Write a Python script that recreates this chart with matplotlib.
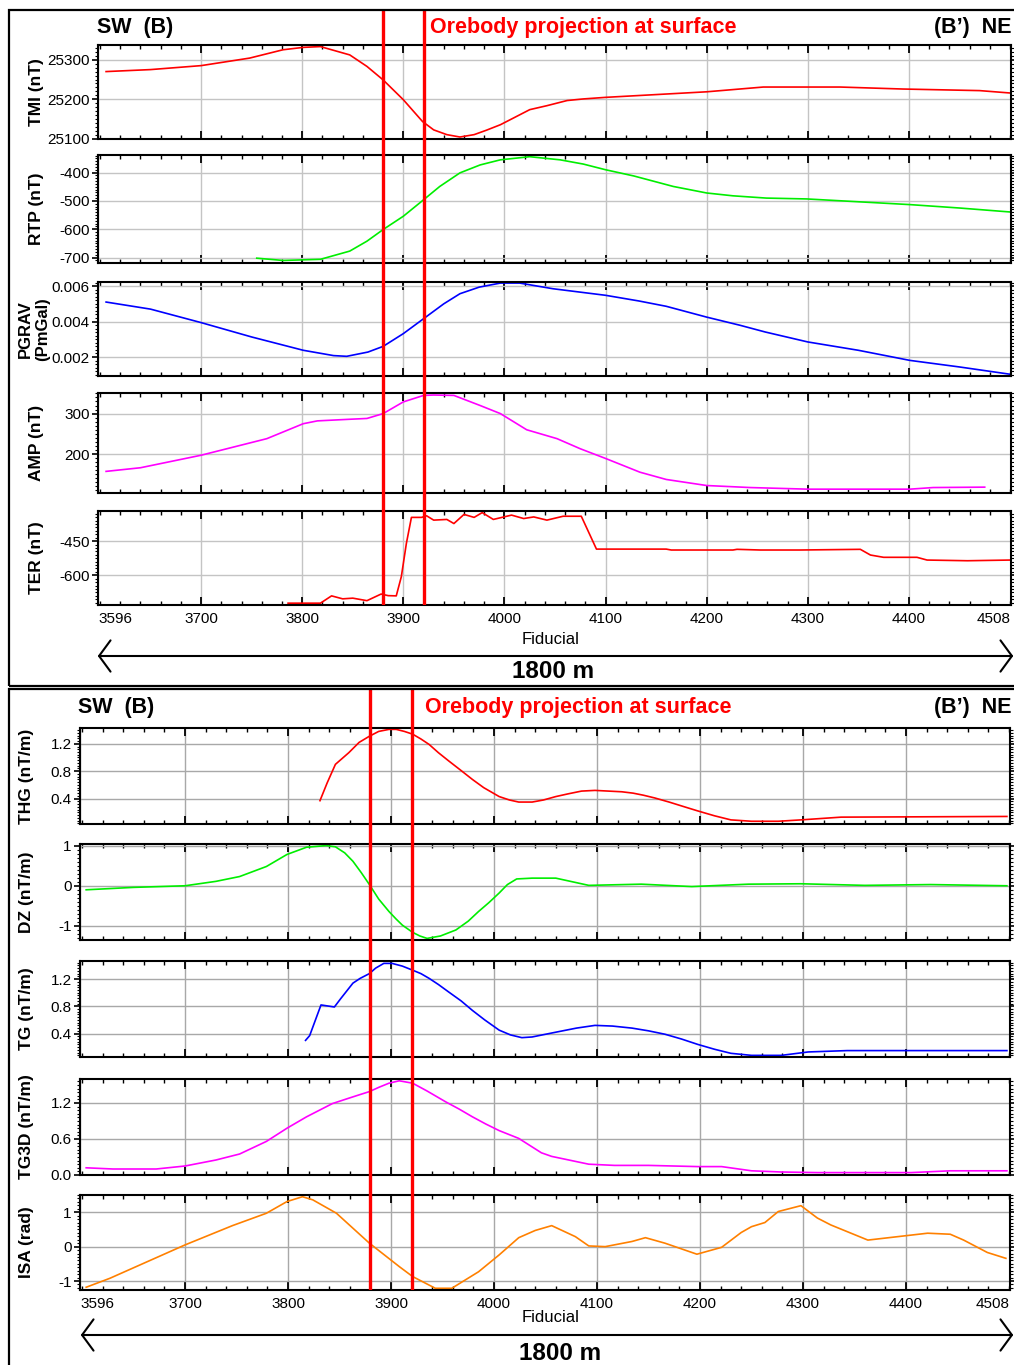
import numpy as np
import matplotlib.pyplot as plt
from matplotlib.ticker import MultipleLocator, AutoMinorLocator, FixedLocator
from matplotlib.patches import Rectangle, FancyArrowPatch

plt.rcParams['font.family'] = ['Liberation Sans', 'DejaVu Sans']
plt.rcParams['axes.unicode_minus'] = False

W, H = 1014, 1365

# ---- data (Fiducial vs. value) ----
fid_range = (3598, 4501)
fid_ticks = [3598, 3700, 3800, 3900, 4000, 4100, 4200, 4300, 4400, 4501]
fid_labels = ['3596', '3700', '3800', '3900', '4000', '4100', '4200', '4300', '4400', '4508']
orebody_edges = [3880, 3920]

tmi_x = [3606, 3650, 3700, 3748, 3781, 3801, 3818, 3847, 3864, 3880, 3890, 3900, 3910, 3919,
         3930, 3943, 3956, 3970, 3982, 3996, 4009, 4025, 4042, 4062, 4078, 4100, 4150, 4200,
         4256, 4332, 4394, 4470, 4500]
tmi_y = [25270, 25275, 25285, 25304, 25325, 25331, 25333, 25312, 25283, 25249, 25224, 25199,
         25170, 25144, 25123, 25111, 25105, 25111, 25122, 25136, 25153, 25174, 25184, 25197,
         25201, 25205, 25212, 25219, 25231, 25231, 25226, 25222, 25216]

rtp_x = [3755, 3781, 3818, 3847, 3864, 3880, 3900, 3920, 3936, 3956, 3976, 3996, 4025, 4055,
         4078, 4100, 4128, 4167, 4200, 4226, 4259, 4299, 4350, 4401, 4450, 4500]
rtp_y = [-702, -710, -706, -677, -642, -601, -554, -496, -449, -401, -373, -355, -344, -355,
         -370, -390, -412, -449, -472, -482, -490, -493, -503, -513, -525, -539]

pgrav_x = [3606, 3650, 3700, 3750, 3801, 3831, 3844, 3865, 3880, 3900, 3920, 3940, 3956, 3975,
           3996, 4015, 4048, 4100, 4133, 4160, 4200, 4233, 4258, 4300, 4350, 4401, 4450, 4500]
pgrav_y = [0.0051, 0.0047, 0.00394, 0.00313, 0.00238, 0.00208, 0.00204, 0.00228, 0.0026,
           0.00332, 0.00416, 0.0050, 0.00557, 0.00594, 0.00617, 0.00617, 0.00585, 0.00548,
           0.00516, 0.00486, 0.00425, 0.00379, 0.00341, 0.00285, 0.00238, 0.00181, 0.00144,
           0.00103]

amp_x = [3606, 3640, 3700, 3765, 3801, 3815, 3847, 3864, 3880, 3900, 3920, 3930, 3950, 3976,
         3996, 4022, 4052, 4075, 4100, 4134, 4160, 4200, 4243, 4300, 4401, 4424, 4475]
amp_y = [157, 166, 197, 238, 275, 282, 286, 288, 300, 329, 345, 346, 345, 320,
         300, 260, 238, 213, 189, 155, 137, 122, 117, 113, 113, 117, 118]

ter_x = [3786, 3818, 3829, 3840, 3850, 3864, 3878, 3885, 3893, 3898, 3903, 3908, 3918, 3923,
         3930, 3943, 3950, 3960, 3970, 3978, 3989, 4007, 4019, 4029, 4042, 4058, 4076, 4091,
         4160, 4165, 4226, 4230, 4253, 4292, 4352, 4362, 4375, 4408, 4418, 4458, 4500]
ter_y = [-722, -722, -690, -703, -700, -711, -682, -689, -690, -606, -460, -346, -346, -339,
         -358, -355, -373, -333, -346, -325, -355, -336, -351, -344, -358, -341, -341, -485,
         -485, -489, -489, -486, -489, -489, -486, -511, -521, -521, -533, -536, -533]

thg_x = [3831, 3838, 3846, 3859, 3869, 3879, 3888, 3898, 3905, 3913, 3921, 3929, 3937, 3946,
         3956, 3968, 3979, 3990, 4005, 4015, 4024, 4037, 4048, 4060, 4072, 4085, 4098, 4111,
         4124, 4135, 4145, 4156, 4170, 4185, 4198, 4214, 4230, 4250, 4276, 4298, 4337, 4498]
thg_y = [0.37, 0.63, 0.90, 1.07, 1.22, 1.31, 1.38, 1.41, 1.41, 1.38, 1.34, 1.27, 1.19, 1.07,
         0.95, 0.81, 0.68, 0.56, 0.43, 0.38, 0.35, 0.35, 0.38, 0.43, 0.47, 0.51, 0.52, 0.51,
         0.50, 0.48, 0.45, 0.41, 0.35, 0.28, 0.22, 0.15, 0.09, 0.07, 0.07, 0.09, 0.13, 0.14]

dz_x = [3604, 3650, 3700, 3730, 3753, 3779, 3799, 3818, 3837, 3846, 3855, 3863, 3871, 3879,
        3888, 3898, 3905, 3911, 3921, 3928, 3935, 3948, 3963, 3975, 3985, 3995, 4005, 4013,
        4022, 4037, 4060, 4092, 4143, 4192, 4247, 4298, 4360, 4424, 4498]
dz_y = [-0.10, -0.04, 0.0, 0.11, 0.23, 0.48, 0.78, 0.96, 1.0, 0.97, 0.82, 0.61, 0.33, 0.03,
        -0.33, -0.64, -0.83, -0.98, -1.16, -1.25, -1.31, -1.25, -1.10, -0.88, -0.64, -0.42,
        -0.18, 0.03, 0.17, 0.19, 0.19, 0.01, 0.04, -0.02, 0.04, 0.05, 0.01, 0.03, 0.0]

tg_x = [3817, 3821, 3832, 3845, 3851, 3863, 3870, 3879, 3885, 3893, 3901, 3911, 3921, 3929,
        3937, 3946, 3956, 3968, 3979, 3991, 4005, 4016, 4027, 4037, 4060, 4080, 4098, 4115,
        4134, 4150, 4166, 4182, 4198, 4214, 4230, 4250, 4279, 4305, 4343, 4498]
tg_y = [0.30, 0.37, 0.82, 0.79, 0.91, 1.14, 1.21, 1.28, 1.36, 1.43, 1.43, 1.39, 1.33, 1.28,
        1.21, 1.12, 1.01, 0.88, 0.74, 0.60, 0.45, 0.38, 0.34, 0.35, 0.42, 0.48, 0.52, 0.51,
        0.48, 0.44, 0.39, 0.32, 0.24, 0.17, 0.11, 0.08, 0.08, 0.13, 0.15, 0.15]

tg3d_x = [3604, 3630, 3672, 3700, 3730, 3753, 3779, 3799, 3818, 3843, 3859, 3868, 3879, 3888,
          3898, 3908, 3921, 3935, 3953, 3966, 3979, 3992, 4005, 4024, 4046, 4056, 4092, 4117,
          4150, 4198, 4221, 4250, 4279, 4314, 4405, 4443, 4498]
tg3d_y = [0.12, 0.10, 0.10, 0.15, 0.25, 0.35, 0.56, 0.78, 0.97, 1.19, 1.28, 1.33, 1.39, 1.46,
          1.53, 1.57, 1.53, 1.40, 1.22, 1.10, 0.97, 0.85, 0.74, 0.61, 0.37, 0.31, 0.18, 0.16,
          0.16, 0.14, 0.14, 0.07, 0.05, 0.04, 0.04, 0.07, 0.07]

isa_x = [3604, 3627, 3700, 3746, 3779, 3799, 3814, 3824, 3847, 3879, 3908, 3921, 3943, 3959,
         3985, 4005, 4024, 4040, 4056, 4079, 4092, 4108, 4134, 4147, 4166, 4197, 4221, 4240,
         4250, 4263, 4276, 4298, 4314, 4327, 4363, 4392, 4421, 4443, 4456, 4479, 4497]
isa_y = [-1.18, -0.92, 0.05, 0.61, 0.97, 1.31, 1.45, 1.36, 0.97, 0.10, -0.58, -0.87, -1.21, -1.21,
         -0.73, -0.24, 0.26, 0.47, 0.61, 0.29, 0.02, 0.0, 0.15, 0.26, 0.10, -0.22, -0.02, 0.41,
         0.58, 0.70, 1.02, 1.19, 0.83, 0.63, 0.19, 0.29, 0.39, 0.36, 0.19, -0.17, -0.34]

# panel specs: (label, x, y, color, ylim, yticks, yticklabels, pixel top, pixel bottom)
top_panels = [
    ('TMI (nT)', tmi_x, tmi_y, 'red', (25100, 25337), [25100, 25200, 25300], None, 45, 139),
    ('RTP (nT)', rtp_x, rtp_y, '#00ee00', (-719, -338), [-700, -600, -500, -400], None, 155, 263),
    ('PGRAV\n(PmGal)', pgrav_x, pgrav_y, 'blue', (0.00093, 0.00623), [0.002, 0.004, 0.006],
     ['0.002', '0.004', '0.006'], 282, 376),
    ('AMP (nT)', amp_x, amp_y, 'magenta', (103.5, 351), [200, 300], None, 393, 493),
    ('TER (nT)', ter_x, ter_y, 'red', (-730, -318), [-600, -450], None, 511, 605),
]
bot_panels = [
    ('THG (nT/m)', thg_x, thg_y, 'red', (0.03, 1.43), [0.4, 0.8, 1.2], None, 728, 824),
    ('DZ (nT/m)', dz_x, dz_y, '#00ee00', (-1.35, 1.04), [-1, 0, 1], None, 844, 940),
    ('TG (nT/m)', tg_x, tg_y, 'blue', (0.056, 1.465), [0.4, 0.8, 1.2], None, 961, 1057),
    ('TG3D (nT/m)', tg3d_x, tg3d_y, 'magenta', (0.0, 1.6), [0.0, 0.6, 1.2],
     ['0.0', '0.6', '1.2'], 1079, 1175),
    ('ISA (rad)', isa_x, isa_y, '#ff8000', (-1.26, 1.5), [-1, 0, 1], None, 1195, 1290),
]

fig = plt.figure(figsize=(W / 100, H / 100), dpi=100)


def px_axes(left, top, right, bottom):
    return fig.add_axes([left / W, 1 - bottom / H, (right - left) / W, (bottom - top) / H])


def fx(px):
    return px / W


def fy(py):
    return 1 - py / H


def draw_block(panels, left, right, label_x, box_top, box_bottom, hdr_y, sw_x, ore_x,
               fid_y, arrow_x0, arrow_y, dist_x, dist_y, grid_col):
    # outer frame
    fig.add_artist(Rectangle((fx(9), fy(box_bottom)), fx(1040), fy(box_top) - fy(box_bottom),
                             transform=fig.transFigure, fill=False, lw=1.6, ec='black'))
    n = len(panels)
    for i, (lab, xs, ys, col, ylim, yt, ytl, top, bot) in enumerate(panels):
        ax = px_axes(left, top, right, bot)
        ax.plot(xs, ys, color=col, lw=1.2)
        ax.set_xlim(*fid_range)
        ax.set_ylim(*ylim)
        ax.xaxis.set_major_locator(FixedLocator(fid_ticks))
        ax.xaxis.set_minor_locator(MultipleLocator(20))
        ax.set_yticks(yt)
        if ytl is not None:
            ax.set_yticklabels(ytl)
        ax.yaxis.set_minor_locator(AutoMinorLocator(10))
        ax.grid(True, which='major', color=grid_col, lw=1.0)
        ax.tick_params(axis='x', which='major', direction='in', top=True, bottom=True,
                       length=6, width=1.3, labelsize=11, pad=5)
        ax.tick_params(axis='x', which='minor', direction='in', top=True, bottom=True,
                       length=3, width=1.0)
        ax.tick_params(axis='y', which='major', direction='out', left=True, right=True,
                       length=4, width=1.2, labelsize=11, pad=2)
        ax.tick_params(axis='y', which='minor', direction='out', left=True, right=True,
                       length=2, width=0.8)
        for s in ax.spines.values():
            s.set_linewidth(1.5)
        if i == n - 1:
            ax.set_xticklabels(fid_labels)
            tl = ax.get_xticklabels()
            tl[0].set_ha('left')
            tl[-1].set_ha('right')
        else:
            ax.tick_params(axis='x', labelbottom=False)
        two_line = '\n' in lab
        lx = label_x - 2 if two_line else label_x
        fig.text(fx(lx), fy((top + bot) / 2), lab, rotation=90, ha='center', va='center',
                 fontsize=12 if two_line else 12.5, fontweight='bold', linespacing=1.12)

    # orebody projection lines on a transparent overlay
    ov = px_axes(left, box_top, right, panels[-1][8])
    ov.set_xlim(*fid_range)
    ov.axis('off')
    for xe in orebody_edges:
        ov.axvline(xe, color='red', lw=2.4)

    fig.text(fx(sw_x), fy(hdr_y), 'SW  (B)', fontsize=15.5, fontweight='bold', va='center')
    fig.text(fx(ore_x), fy(hdr_y), 'Orebody projection at surface', fontsize=15.5,
             fontweight='bold', color='red', va='center')
    fig.text(fx(right + 1), fy(hdr_y), '(B\u2019)  NE', fontsize=15.5, fontweight='bold',
             va='center', ha='right')
    fig.text(fx(551), fy(fid_y), 'Fiducial', fontsize=12, ha='center', va='center')
    fig.add_artist(FancyArrowPatch((fx(arrow_x0), fy(arrow_y)), (fx(1016), fy(arrow_y)),
                                   transform=fig.transFigure,
                                   arrowstyle='<->,head_length=0.55,head_width=0.75',
                                   mutation_scale=15, lw=1.5, color='black'))
    fig.text(fx(dist_x), fy(dist_y), '1800 m', fontsize=17.5, fontweight='bold',
             ha='center', va='center')


draw_block(top_panels, 98, 1011, 36, 10, 686, 27, 97, 430, 640, 95, 656, 553, 672, '#c4c4c4')
draw_block(bot_panels, 80, 1010, 27, 689, 1380, 707, 78, 425, 1318, 78, 1335, 560, 1354,
           '#a8a8a8')

fig.savefig('out.png', dpi=100, facecolor='white')
